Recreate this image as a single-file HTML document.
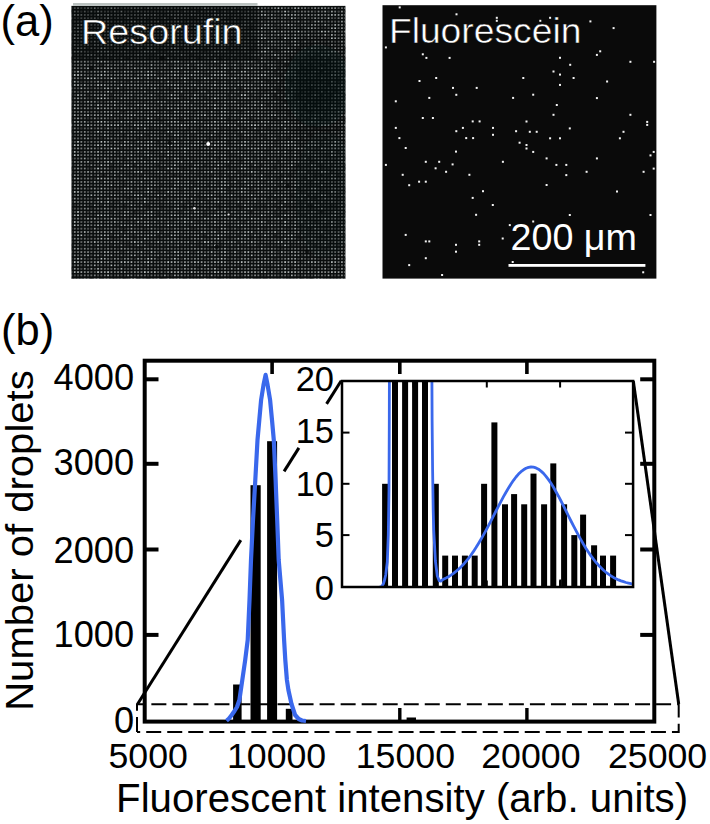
<!DOCTYPE html>
<html><head><meta charset="utf-8"><title>Figure</title>
<style>
html,body{margin:0;padding:0;background:#fff;width:710px;height:824px;overflow:hidden}
svg{display:block;font-family:"Liberation Sans",sans-serif}
</style></head><body>
<svg width="710" height="824" viewBox="0 0 710 824">
<defs>
<pattern id="dots" patternUnits="userSpaceOnUse" x="70.5" y="7.35" width="3.34" height="3.34">
<rect x="0" y="0" width="1.7" height="1.7" rx="0.5" fill="#d2d8d8"/></pattern>
<pattern id="dimA" patternUnits="userSpaceOnUse" x="70.5" y="7.35" width="23.38" height="23.38"><rect x="-0.20" y="-0.20" width="2" height="2" fill="#000" fill-opacity="0.08"/><rect x="-0.20" y="3.14" width="2" height="2" fill="#000" fill-opacity="0.51"/><rect x="-0.20" y="6.48" width="2" height="2" fill="#000" fill-opacity="0.46"/><rect x="-0.20" y="9.82" width="2" height="2" fill="#000" fill-opacity="0.15"/><rect x="-0.20" y="13.16" width="2" height="2" fill="#000" fill-opacity="0.30"/><rect x="-0.20" y="16.50" width="2" height="2" fill="#000" fill-opacity="0.27"/><rect x="-0.20" y="19.84" width="2" height="2" fill="#000" fill-opacity="0.39"/><rect x="3.14" y="-0.20" width="2" height="2" fill="#000" fill-opacity="0.47"/><rect x="3.14" y="3.14" width="2" height="2" fill="#000" fill-opacity="0.06"/><rect x="3.14" y="6.48" width="2" height="2" fill="#000" fill-opacity="0.02"/><rect x="3.14" y="9.82" width="2" height="2" fill="#000" fill-opacity="0.50"/><rect x="3.14" y="13.16" width="2" height="2" fill="#000" fill-opacity="0.26"/><rect x="3.14" y="16.50" width="2" height="2" fill="#000" fill-opacity="0.46"/><rect x="3.14" y="19.84" width="2" height="2" fill="#000" fill-opacity="0.00"/><rect x="6.48" y="-0.20" width="2" height="2" fill="#000" fill-opacity="0.27"/><rect x="6.48" y="3.14" width="2" height="2" fill="#000" fill-opacity="0.43"/><rect x="6.48" y="6.48" width="2" height="2" fill="#000" fill-opacity="0.14"/><rect x="6.48" y="9.82" width="2" height="2" fill="#000" fill-opacity="0.57"/><rect x="6.48" y="13.16" width="2" height="2" fill="#000" fill-opacity="0.54"/><rect x="6.48" y="16.50" width="2" height="2" fill="#000" fill-opacity="0.02"/><rect x="6.48" y="19.84" width="2" height="2" fill="#000" fill-opacity="0.02"/><rect x="9.82" y="-0.20" width="2" height="2" fill="#000" fill-opacity="0.32"/><rect x="9.82" y="3.14" width="2" height="2" fill="#000" fill-opacity="0.56"/><rect x="9.82" y="6.48" width="2" height="2" fill="#000" fill-opacity="0.23"/><rect x="9.82" y="9.82" width="2" height="2" fill="#000" fill-opacity="0.13"/><rect x="9.82" y="13.16" width="2" height="2" fill="#000" fill-opacity="0.25"/><rect x="9.82" y="16.50" width="2" height="2" fill="#000" fill-opacity="0.02"/><rect x="9.82" y="19.84" width="2" height="2" fill="#000" fill-opacity="0.13"/><rect x="13.16" y="-0.20" width="2" height="2" fill="#000" fill-opacity="0.26"/><rect x="13.16" y="3.14" width="2" height="2" fill="#000" fill-opacity="0.30"/><rect x="13.16" y="6.48" width="2" height="2" fill="#000" fill-opacity="0.14"/><rect x="13.16" y="9.82" width="2" height="2" fill="#000" fill-opacity="0.14"/><rect x="13.16" y="13.16" width="2" height="2" fill="#000" fill-opacity="0.13"/><rect x="13.16" y="16.50" width="2" height="2" fill="#000" fill-opacity="0.28"/><rect x="13.16" y="19.84" width="2" height="2" fill="#000" fill-opacity="0.17"/><rect x="16.50" y="-0.20" width="2" height="2" fill="#000" fill-opacity="0.01"/><rect x="16.50" y="3.14" width="2" height="2" fill="#000" fill-opacity="0.50"/><rect x="16.50" y="6.48" width="2" height="2" fill="#000" fill-opacity="0.33"/><rect x="16.50" y="9.82" width="2" height="2" fill="#000" fill-opacity="0.39"/><rect x="16.50" y="13.16" width="2" height="2" fill="#000" fill-opacity="0.11"/><rect x="16.50" y="16.50" width="2" height="2" fill="#000" fill-opacity="0.60"/><rect x="16.50" y="19.84" width="2" height="2" fill="#000" fill-opacity="0.52"/><rect x="19.84" y="-0.20" width="2" height="2" fill="#000" fill-opacity="0.07"/><rect x="19.84" y="3.14" width="2" height="2" fill="#000" fill-opacity="0.20"/><rect x="19.84" y="6.48" width="2" height="2" fill="#000" fill-opacity="0.43"/><rect x="19.84" y="9.82" width="2" height="2" fill="#000" fill-opacity="0.43"/><rect x="19.84" y="13.16" width="2" height="2" fill="#000" fill-opacity="0.56"/><rect x="19.84" y="16.50" width="2" height="2" fill="#000" fill-opacity="0.25"/><rect x="19.84" y="19.84" width="2" height="2" fill="#000" fill-opacity="0.50"/></pattern><pattern id="dimB" patternUnits="userSpaceOnUse" x="70.5" y="7.35" width="36.74" height="36.74"><rect x="-0.20" y="-0.20" width="2" height="2" fill="#000" fill-opacity="0.48"/><rect x="-0.20" y="3.14" width="2" height="2" fill="#000" fill-opacity="0.47"/><rect x="-0.20" y="6.48" width="2" height="2" fill="#000" fill-opacity="0.03"/><rect x="-0.20" y="9.82" width="2" height="2" fill="#000" fill-opacity="0.04"/><rect x="-0.20" y="13.16" width="2" height="2" fill="#000" fill-opacity="0.42"/><rect x="-0.20" y="16.50" width="2" height="2" fill="#000" fill-opacity="0.37"/><rect x="-0.20" y="19.84" width="2" height="2" fill="#000" fill-opacity="0.33"/><rect x="-0.20" y="23.18" width="2" height="2" fill="#000" fill-opacity="0.15"/><rect x="-0.20" y="26.52" width="2" height="2" fill="#000" fill-opacity="0.30"/><rect x="-0.20" y="29.86" width="2" height="2" fill="#000" fill-opacity="0.30"/><rect x="-0.20" y="33.20" width="2" height="2" fill="#000" fill-opacity="0.29"/><rect x="3.14" y="-0.20" width="2" height="2" fill="#000" fill-opacity="0.08"/><rect x="3.14" y="3.14" width="2" height="2" fill="#000" fill-opacity="0.22"/><rect x="3.14" y="6.48" width="2" height="2" fill="#000" fill-opacity="0.20"/><rect x="3.14" y="9.82" width="2" height="2" fill="#000" fill-opacity="0.36"/><rect x="3.14" y="13.16" width="2" height="2" fill="#000" fill-opacity="0.50"/><rect x="3.14" y="16.50" width="2" height="2" fill="#000" fill-opacity="0.47"/><rect x="3.14" y="19.84" width="2" height="2" fill="#000" fill-opacity="0.27"/><rect x="3.14" y="23.18" width="2" height="2" fill="#000" fill-opacity="0.22"/><rect x="3.14" y="26.52" width="2" height="2" fill="#000" fill-opacity="0.13"/><rect x="3.14" y="29.86" width="2" height="2" fill="#000" fill-opacity="0.02"/><rect x="3.14" y="33.20" width="2" height="2" fill="#000" fill-opacity="0.01"/><rect x="6.48" y="-0.20" width="2" height="2" fill="#000" fill-opacity="0.23"/><rect x="6.48" y="3.14" width="2" height="2" fill="#000" fill-opacity="0.16"/><rect x="6.48" y="6.48" width="2" height="2" fill="#000" fill-opacity="0.19"/><rect x="6.48" y="9.82" width="2" height="2" fill="#000" fill-opacity="0.45"/><rect x="6.48" y="13.16" width="2" height="2" fill="#000" fill-opacity="0.26"/><rect x="6.48" y="16.50" width="2" height="2" fill="#000" fill-opacity="0.28"/><rect x="6.48" y="19.84" width="2" height="2" fill="#000" fill-opacity="0.12"/><rect x="6.48" y="23.18" width="2" height="2" fill="#000" fill-opacity="0.01"/><rect x="6.48" y="26.52" width="2" height="2" fill="#000" fill-opacity="0.16"/><rect x="6.48" y="29.86" width="2" height="2" fill="#000" fill-opacity="0.07"/><rect x="6.48" y="33.20" width="2" height="2" fill="#000" fill-opacity="0.26"/><rect x="9.82" y="-0.20" width="2" height="2" fill="#000" fill-opacity="0.50"/><rect x="9.82" y="3.14" width="2" height="2" fill="#000" fill-opacity="0.34"/><rect x="9.82" y="6.48" width="2" height="2" fill="#000" fill-opacity="0.09"/><rect x="9.82" y="9.82" width="2" height="2" fill="#000" fill-opacity="0.45"/><rect x="9.82" y="13.16" width="2" height="2" fill="#000" fill-opacity="0.40"/><rect x="9.82" y="16.50" width="2" height="2" fill="#000" fill-opacity="0.37"/><rect x="9.82" y="19.84" width="2" height="2" fill="#000" fill-opacity="0.45"/><rect x="9.82" y="23.18" width="2" height="2" fill="#000" fill-opacity="0.38"/><rect x="9.82" y="26.52" width="2" height="2" fill="#000" fill-opacity="0.39"/><rect x="9.82" y="29.86" width="2" height="2" fill="#000" fill-opacity="0.18"/><rect x="9.82" y="33.20" width="2" height="2" fill="#000" fill-opacity="0.49"/><rect x="13.16" y="-0.20" width="2" height="2" fill="#000" fill-opacity="0.48"/><rect x="13.16" y="3.14" width="2" height="2" fill="#000" fill-opacity="0.08"/><rect x="13.16" y="6.48" width="2" height="2" fill="#000" fill-opacity="0.38"/><rect x="13.16" y="9.82" width="2" height="2" fill="#000" fill-opacity="0.36"/><rect x="13.16" y="13.16" width="2" height="2" fill="#000" fill-opacity="0.23"/><rect x="13.16" y="16.50" width="2" height="2" fill="#000" fill-opacity="0.27"/><rect x="13.16" y="19.84" width="2" height="2" fill="#000" fill-opacity="0.25"/><rect x="13.16" y="23.18" width="2" height="2" fill="#000" fill-opacity="0.46"/><rect x="13.16" y="26.52" width="2" height="2" fill="#000" fill-opacity="0.25"/><rect x="13.16" y="29.86" width="2" height="2" fill="#000" fill-opacity="0.42"/><rect x="13.16" y="33.20" width="2" height="2" fill="#000" fill-opacity="0.18"/><rect x="16.50" y="-0.20" width="2" height="2" fill="#000" fill-opacity="0.44"/><rect x="16.50" y="3.14" width="2" height="2" fill="#000" fill-opacity="0.45"/><rect x="16.50" y="6.48" width="2" height="2" fill="#000" fill-opacity="0.23"/><rect x="16.50" y="9.82" width="2" height="2" fill="#000" fill-opacity="0.28"/><rect x="16.50" y="13.16" width="2" height="2" fill="#000" fill-opacity="0.46"/><rect x="16.50" y="16.50" width="2" height="2" fill="#000" fill-opacity="0.36"/><rect x="16.50" y="19.84" width="2" height="2" fill="#000" fill-opacity="0.24"/><rect x="16.50" y="23.18" width="2" height="2" fill="#000" fill-opacity="0.11"/><rect x="16.50" y="26.52" width="2" height="2" fill="#000" fill-opacity="0.16"/><rect x="16.50" y="29.86" width="2" height="2" fill="#000" fill-opacity="0.35"/><rect x="16.50" y="33.20" width="2" height="2" fill="#000" fill-opacity="0.08"/><rect x="19.84" y="-0.20" width="2" height="2" fill="#000" fill-opacity="0.45"/><rect x="19.84" y="3.14" width="2" height="2" fill="#000" fill-opacity="0.13"/><rect x="19.84" y="6.48" width="2" height="2" fill="#000" fill-opacity="0.46"/><rect x="19.84" y="9.82" width="2" height="2" fill="#000" fill-opacity="0.15"/><rect x="19.84" y="13.16" width="2" height="2" fill="#000" fill-opacity="0.48"/><rect x="19.84" y="16.50" width="2" height="2" fill="#000" fill-opacity="0.35"/><rect x="19.84" y="19.84" width="2" height="2" fill="#000" fill-opacity="0.25"/><rect x="19.84" y="23.18" width="2" height="2" fill="#000" fill-opacity="0.26"/><rect x="19.84" y="26.52" width="2" height="2" fill="#000" fill-opacity="0.33"/><rect x="19.84" y="29.86" width="2" height="2" fill="#000" fill-opacity="0.29"/><rect x="19.84" y="33.20" width="2" height="2" fill="#000" fill-opacity="0.16"/><rect x="23.18" y="-0.20" width="2" height="2" fill="#000" fill-opacity="0.10"/><rect x="23.18" y="3.14" width="2" height="2" fill="#000" fill-opacity="0.26"/><rect x="23.18" y="6.48" width="2" height="2" fill="#000" fill-opacity="0.47"/><rect x="23.18" y="9.82" width="2" height="2" fill="#000" fill-opacity="0.31"/><rect x="23.18" y="13.16" width="2" height="2" fill="#000" fill-opacity="0.04"/><rect x="23.18" y="16.50" width="2" height="2" fill="#000" fill-opacity="0.41"/><rect x="23.18" y="19.84" width="2" height="2" fill="#000" fill-opacity="0.36"/><rect x="23.18" y="23.18" width="2" height="2" fill="#000" fill-opacity="0.45"/><rect x="23.18" y="26.52" width="2" height="2" fill="#000" fill-opacity="0.10"/><rect x="23.18" y="29.86" width="2" height="2" fill="#000" fill-opacity="0.37"/><rect x="23.18" y="33.20" width="2" height="2" fill="#000" fill-opacity="0.03"/><rect x="26.52" y="-0.20" width="2" height="2" fill="#000" fill-opacity="0.33"/><rect x="26.52" y="3.14" width="2" height="2" fill="#000" fill-opacity="0.14"/><rect x="26.52" y="6.48" width="2" height="2" fill="#000" fill-opacity="0.11"/><rect x="26.52" y="9.82" width="2" height="2" fill="#000" fill-opacity="0.44"/><rect x="26.52" y="13.16" width="2" height="2" fill="#000" fill-opacity="0.05"/><rect x="26.52" y="16.50" width="2" height="2" fill="#000" fill-opacity="0.26"/><rect x="26.52" y="19.84" width="2" height="2" fill="#000" fill-opacity="0.43"/><rect x="26.52" y="23.18" width="2" height="2" fill="#000" fill-opacity="0.12"/><rect x="26.52" y="26.52" width="2" height="2" fill="#000" fill-opacity="0.11"/><rect x="26.52" y="29.86" width="2" height="2" fill="#000" fill-opacity="0.44"/><rect x="26.52" y="33.20" width="2" height="2" fill="#000" fill-opacity="0.21"/><rect x="29.86" y="-0.20" width="2" height="2" fill="#000" fill-opacity="0.36"/><rect x="29.86" y="3.14" width="2" height="2" fill="#000" fill-opacity="0.02"/><rect x="29.86" y="6.48" width="2" height="2" fill="#000" fill-opacity="0.18"/><rect x="29.86" y="9.82" width="2" height="2" fill="#000" fill-opacity="0.09"/><rect x="29.86" y="13.16" width="2" height="2" fill="#000" fill-opacity="0.34"/><rect x="29.86" y="16.50" width="2" height="2" fill="#000" fill-opacity="0.04"/><rect x="29.86" y="19.84" width="2" height="2" fill="#000" fill-opacity="0.48"/><rect x="29.86" y="23.18" width="2" height="2" fill="#000" fill-opacity="0.01"/><rect x="29.86" y="26.52" width="2" height="2" fill="#000" fill-opacity="0.36"/><rect x="29.86" y="29.86" width="2" height="2" fill="#000" fill-opacity="0.01"/><rect x="29.86" y="33.20" width="2" height="2" fill="#000" fill-opacity="0.13"/><rect x="33.20" y="-0.20" width="2" height="2" fill="#000" fill-opacity="0.41"/><rect x="33.20" y="3.14" width="2" height="2" fill="#000" fill-opacity="0.08"/><rect x="33.20" y="6.48" width="2" height="2" fill="#000" fill-opacity="0.09"/><rect x="33.20" y="9.82" width="2" height="2" fill="#000" fill-opacity="0.35"/><rect x="33.20" y="13.16" width="2" height="2" fill="#000" fill-opacity="0.19"/><rect x="33.20" y="16.50" width="2" height="2" fill="#000" fill-opacity="0.02"/><rect x="33.20" y="19.84" width="2" height="2" fill="#000" fill-opacity="0.50"/><rect x="33.20" y="23.18" width="2" height="2" fill="#000" fill-opacity="0.08"/><rect x="33.20" y="26.52" width="2" height="2" fill="#000" fill-opacity="0.02"/><rect x="33.20" y="29.86" width="2" height="2" fill="#000" fill-opacity="0.17"/><rect x="33.20" y="33.20" width="2" height="2" fill="#000" fill-opacity="0.31"/></pattern>
<clipPath id="rclip"><rect x="71.5" y="5.9" width="273.9" height="272.8"/></clipPath>
<clipPath id="iclip"><rect x="342.0" y="381.0" width="291.1" height="206"/></clipPath>
<linearGradient id="rgrad" gradientUnits="userSpaceOnUse" x1="72" y1="200" x2="345" y2="120">
<stop offset="0" stop-color="#050808" stop-opacity="0"/><stop offset="0.45" stop-color="#050808" stop-opacity="0.06"/><stop offset="1" stop-color="#050808" stop-opacity="0.32"/></linearGradient>
<filter id="blur8" x="-50%" y="-50%" width="200%" height="200%"><feGaussianBlur stdDeviation="10"/></filter>
</defs>
<text x="0.5" y="35.5" font-size="43.5">(a)</text>
<text x="1" y="345.4" font-size="43.5">(b)</text>
<rect x="71.5" y="5.9" width="273.9" height="272.8" fill="#0b0f0f"/>
<rect x="71.5" y="5.9" width="273.9" height="272.8" fill="url(#dots)"/>
<rect x="71.5" y="5.9" width="273.9" height="272.8" fill="url(#dimA)"/>
<rect x="71.5" y="5.9" width="273.9" height="272.8" fill="url(#dimB)"/>
<g clip-path="url(#rclip)">
<ellipse cx="325" cy="195" rx="30" ry="65" fill="#050808" opacity="0.3" filter="url(#blur8)"/>
<rect x="71.5" y="5.9" width="186" height="54" fill="#050808" opacity="0.45"/>
<ellipse cx="318" cy="86" rx="34" ry="42" fill="#050808" opacity="0.6" filter="url(#blur8)"/>
</g>
<rect x="73" y="3" width="184.5" height="2.9" fill="#bcc3c1"/>
<circle cx="208.2" cy="144" r="2" fill="#ffffff"/>
<circle cx="194.4" cy="208.3" r="1.3" fill="#e8e8e8"/>
<circle cx="228.6" cy="214.5" r="1.1" fill="#e0e0e0"/>
<circle cx="287.4" cy="186" r="2.2" fill="#050808" opacity="0.7"/>
<circle cx="307" cy="251.8" r="2.2" fill="#050808" opacity="0.7"/>
<circle cx="216.8" cy="246.9" r="2.2" fill="#050808" opacity="0.7"/>
<circle cx="170" cy="143" r="2.2" fill="#050808" opacity="0.7"/>
<circle cx="91" cy="68" r="2.2" fill="#050808" opacity="0.7"/>
<circle cx="162" cy="58" r="2.2" fill="#050808" opacity="0.7"/>
<text x="81.1" y="44.2" font-size="35" fill="#fff" stroke="#101414" stroke-width="0.5" textLength="161.5" lengthAdjust="spacingAndGlyphs">Resorufin</text>
<rect x="382.5" y="5.2" width="273.9" height="273.4" fill="#0a0a0a"/>
<rect x="398.7" y="6.4" width="2" height="2" fill="#f4f4f4"/>
<rect x="455.5" y="13.3" width="2" height="2" fill="#f4f4f4"/>
<rect x="495.8" y="16.8" width="2" height="2" fill="#f4f4f4"/>
<rect x="495.8" y="19.8" width="2" height="2" fill="#f4f4f4"/>
<rect x="384.9" y="46.4" width="2" height="2" fill="#f4f4f4"/>
<rect x="421.8" y="53.3" width="2" height="2" fill="#f4f4f4"/>
<rect x="425.4" y="56.9" width="2" height="2" fill="#f4f4f4"/>
<rect x="448.6" y="56.9" width="2" height="2" fill="#f4f4f4"/>
<rect x="435.2" y="77" width="2" height="2" fill="#f4f4f4"/>
<rect x="418.5" y="80" width="2" height="2" fill="#f4f4f4"/>
<rect x="452" y="86.9" width="2" height="2" fill="#f4f4f4"/>
<rect x="475.7" y="86.9" width="2" height="2" fill="#f4f4f4"/>
<rect x="455.3" y="93.8" width="2" height="2" fill="#f4f4f4"/>
<rect x="428.3" y="96.9" width="2" height="2" fill="#f4f4f4"/>
<rect x="512.1" y="96.9" width="2" height="2" fill="#f4f4f4"/>
<rect x="394.8" y="100.3" width="2" height="2" fill="#f4f4f4"/>
<rect x="421.8" y="117" width="2" height="2" fill="#f4f4f4"/>
<rect x="431.9" y="117" width="2" height="2" fill="#f4f4f4"/>
<rect x="471.7" y="120.4" width="2" height="2" fill="#f4f4f4"/>
<rect x="478.6" y="120.4" width="2" height="2" fill="#f4f4f4"/>
<rect x="394.8" y="126.9" width="2" height="2" fill="#f4f4f4"/>
<rect x="461.9" y="126.9" width="2" height="2" fill="#f4f4f4"/>
<rect x="492" y="126.9" width="2" height="2" fill="#f4f4f4"/>
<rect x="455.3" y="130.2" width="2" height="2" fill="#f4f4f4"/>
<rect x="515.1" y="130.2" width="2" height="2" fill="#f4f4f4"/>
<rect x="492" y="133.8" width="2" height="2" fill="#f4f4f4"/>
<rect x="398.4" y="137.1" width="2" height="2" fill="#f4f4f4"/>
<rect x="465.2" y="137.1" width="2" height="2" fill="#f4f4f4"/>
<rect x="472.1" y="137.1" width="2" height="2" fill="#f4f4f4"/>
<rect x="518.6" y="141.7" width="2" height="2" fill="#f4f4f4"/>
<rect x="404.7" y="147" width="2" height="2" fill="#f4f4f4"/>
<rect x="455" y="150.6" width="2" height="2" fill="#f4f4f4"/>
<rect x="424.8" y="160.8" width="2" height="2" fill="#f4f4f4"/>
<rect x="438.2" y="160.8" width="2" height="2" fill="#f4f4f4"/>
<rect x="501.9" y="160.8" width="2" height="2" fill="#f4f4f4"/>
<rect x="451.6" y="163.4" width="2" height="2" fill="#f4f4f4"/>
<rect x="539.3" y="19.8" width="2" height="2" fill="#f4f4f4"/>
<rect x="549.1" y="16.8" width="2" height="2" fill="#f4f4f4"/>
<rect x="589.4" y="20.4" width="2" height="2" fill="#f4f4f4"/>
<rect x="612.6" y="27.1" width="2" height="2" fill="#f4f4f4"/>
<rect x="599.2" y="50.3" width="2" height="2" fill="#f4f4f4"/>
<rect x="595.9" y="53.9" width="2" height="2" fill="#f4f4f4"/>
<rect x="559" y="56.8" width="2" height="2" fill="#f4f4f4"/>
<rect x="629.4" y="60.8" width="2" height="2" fill="#f4f4f4"/>
<rect x="653.1" y="60.8" width="2" height="2" fill="#f4f4f4"/>
<rect x="569.2" y="63.8" width="2" height="2" fill="#f4f4f4"/>
<rect x="552.5" y="70.5" width="2" height="2" fill="#f4f4f4"/>
<rect x="559" y="73.6" width="2" height="2" fill="#f4f4f4"/>
<rect x="522.3" y="77" width="2" height="2" fill="#f4f4f4"/>
<rect x="572.6" y="77" width="2" height="2" fill="#f4f4f4"/>
<rect x="606.1" y="80.5" width="2" height="2" fill="#f4f4f4"/>
<rect x="559" y="83.9" width="2" height="2" fill="#f4f4f4"/>
<rect x="532.2" y="93.7" width="2" height="2" fill="#f4f4f4"/>
<rect x="595.9" y="97.1" width="2" height="2" fill="#f4f4f4"/>
<rect x="555.8" y="104" width="2" height="2" fill="#f4f4f4"/>
<rect x="552.5" y="113.8" width="2" height="2" fill="#f4f4f4"/>
<rect x="629.4" y="113.8" width="2" height="2" fill="#f4f4f4"/>
<rect x="525.5" y="120.5" width="2" height="2" fill="#f4f4f4"/>
<rect x="646.2" y="120.9" width="2" height="2" fill="#f4f4f4"/>
<rect x="646.2" y="123.9" width="2" height="2" fill="#f4f4f4"/>
<rect x="568.8" y="127.4" width="2" height="2" fill="#f4f4f4"/>
<rect x="528.8" y="130.8" width="2" height="2" fill="#f4f4f4"/>
<rect x="535.7" y="130.8" width="2" height="2" fill="#f4f4f4"/>
<rect x="622.5" y="130.8" width="2" height="2" fill="#f4f4f4"/>
<rect x="549.1" y="137.3" width="2" height="2" fill="#f4f4f4"/>
<rect x="559" y="137.3" width="2" height="2" fill="#f4f4f4"/>
<rect x="618.9" y="137.3" width="2" height="2" fill="#f4f4f4"/>
<rect x="525.5" y="144" width="2" height="2" fill="#f4f4f4"/>
<rect x="525.5" y="147.5" width="2" height="2" fill="#f4f4f4"/>
<rect x="532.2" y="150.9" width="2" height="2" fill="#f4f4f4"/>
<rect x="652.7" y="150.9" width="2" height="2" fill="#f4f4f4"/>
<rect x="649.5" y="154.4" width="2" height="2" fill="#f4f4f4"/>
<rect x="545.6" y="157.4" width="2" height="2" fill="#f4f4f4"/>
<rect x="595.9" y="157.4" width="2" height="2" fill="#f4f4f4"/>
<rect x="555.4" y="163.9" width="2" height="2" fill="#f4f4f4"/>
<rect x="565.3" y="163.9" width="2" height="2" fill="#f4f4f4"/>
<rect x="652.7" y="167.6" width="2" height="2" fill="#f4f4f4"/>
<rect x="585.6" y="170.8" width="2" height="2" fill="#f4f4f4"/>
<rect x="642.6" y="170.8" width="2" height="2" fill="#f4f4f4"/>
<rect x="565.3" y="174.1" width="2" height="2" fill="#f4f4f4"/>
<rect x="545.6" y="184" width="2" height="2" fill="#f4f4f4"/>
<rect x="616" y="190.5" width="2" height="2" fill="#f4f4f4"/>
<rect x="568.8" y="214" width="2" height="2" fill="#f4f4f4"/>
<rect x="649.5" y="214" width="2" height="2" fill="#f4f4f4"/>
<rect x="532.2" y="220.5" width="2" height="2" fill="#f4f4f4"/>
<rect x="384.9" y="163.9" width="2" height="2" fill="#f4f4f4"/>
<rect x="434.6" y="167.3" width="2" height="2" fill="#f4f4f4"/>
<rect x="445.1" y="170.8" width="2" height="2" fill="#f4f4f4"/>
<rect x="401.7" y="173.8" width="2" height="2" fill="#f4f4f4"/>
<rect x="468.4" y="173.8" width="2" height="2" fill="#f4f4f4"/>
<rect x="418.1" y="180.7" width="2" height="2" fill="#f4f4f4"/>
<rect x="424.8" y="180.7" width="2" height="2" fill="#f4f4f4"/>
<rect x="408.2" y="184.2" width="2" height="2" fill="#f4f4f4"/>
<rect x="482" y="190.2" width="2" height="2" fill="#f4f4f4"/>
<rect x="471.7" y="196.9" width="2" height="2" fill="#f4f4f4"/>
<rect x="491.8" y="204" width="2" height="2" fill="#f4f4f4"/>
<rect x="475.1" y="213.8" width="2" height="2" fill="#f4f4f4"/>
<rect x="508.8" y="224.1" width="2" height="2" fill="#f4f4f4"/>
<rect x="404.7" y="233.9" width="2" height="2" fill="#f4f4f4"/>
<rect x="501.7" y="237.5" width="2" height="2" fill="#f4f4f4"/>
<rect x="424.8" y="240.4" width="2" height="2" fill="#f4f4f4"/>
<rect x="428.3" y="240.4" width="2" height="2" fill="#f4f4f4"/>
<rect x="478.2" y="240.4" width="2" height="2" fill="#f4f4f4"/>
<rect x="478.2" y="243.8" width="2" height="2" fill="#f4f4f4"/>
<rect x="455" y="243.8" width="2" height="2" fill="#f4f4f4"/>
<rect x="455" y="250.7" width="2" height="2" fill="#f4f4f4"/>
<rect x="424.8" y="257.2" width="2" height="2" fill="#f4f4f4"/>
<rect x="408.2" y="264.1" width="2" height="2" fill="#f4f4f4"/>
<rect x="511.7" y="261" width="2" height="2" fill="#f4f4f4"/>
<rect x="441.1" y="274" width="2" height="2" fill="#f4f4f4"/>
<rect x="642.2" y="271.3" width="2" height="2" fill="#f4f4f4"/>
<text x="388.9" y="43.4" font-size="35" fill="#fff" stroke="#0a0a0a" stroke-width="0.5" textLength="192.5" lengthAdjust="spacingAndGlyphs">Fluorescein</text>
<text x="510.5" y="249.9" font-size="36" fill="#fff" textLength="126.5" lengthAdjust="spacingAndGlyphs">200 μm</text>
<rect x="508.5" y="264" width="136.9" height="2.8" fill="#fff"/>
<path d="M137,731.9 V704.2 H678.7 V731.9 H137" fill="none" stroke="#000" stroke-width="2" stroke-dasharray="15 6.03"/>
<line x1="137.6" y1="704" x2="240.8" y2="540.1" stroke="#000" stroke-width="3"/>
<line x1="284.1" y1="471.4" x2="298.9" y2="447.9" stroke="#000" stroke-width="3"/>
<line x1="326.6" y1="403.9" x2="341.2" y2="380.7" stroke="#000" stroke-width="3"/>
<line x1="633.3" y1="381" x2="678.7" y2="704" stroke="#000" stroke-width="3"/>
<rect x="233.1" y="684.5" width="8.5" height="37.1" fill="#000"/>
<rect x="250.5" y="485.2" width="10.2" height="236.4" fill="#000"/>
<rect x="267.1" y="441.2" width="10" height="280.4" fill="#000"/>
<rect x="285.8" y="708.8" width="6.7" height="12.8" fill="#000"/>
<rect x="406.6" y="717.5" width="9.4" height="4.1" fill="#000"/>
<rect x="144.7" y="360.7" width="509.6" height="360.9" fill="none" stroke="#000" stroke-width="4"/>
<line x1="146" y1="379.3" x2="158.5" y2="379.3" stroke="#000" stroke-width="4"/>
<line x1="640.2" y1="379.3" x2="653" y2="379.3" stroke="#000" stroke-width="4"/>
<line x1="146" y1="463.8" x2="158.5" y2="463.8" stroke="#000" stroke-width="4"/>
<line x1="640.2" y1="463.8" x2="653" y2="463.8" stroke="#000" stroke-width="4"/>
<line x1="146" y1="549.5" x2="158.5" y2="549.5" stroke="#000" stroke-width="4"/>
<line x1="640.2" y1="549.5" x2="653" y2="549.5" stroke="#000" stroke-width="4"/>
<line x1="146" y1="634.9" x2="158.5" y2="634.9" stroke="#000" stroke-width="4"/>
<line x1="640.2" y1="634.9" x2="653" y2="634.9" stroke="#000" stroke-width="4"/>
<line x1="272.1" y1="362" x2="272.1" y2="374" stroke="#000" stroke-width="3.6"/>
<line x1="399.8" y1="362" x2="399.8" y2="374" stroke="#000" stroke-width="3.6"/>
<line x1="526.9" y1="362" x2="526.9" y2="374" stroke="#000" stroke-width="3.6"/>
<line x1="399.8" y1="708" x2="399.8" y2="720" stroke="#000" stroke-width="3.4"/>
<line x1="526.9" y1="708" x2="526.9" y2="720" stroke="#000" stroke-width="3.4"/>
<polyline points="226.5,720.8 229,718.5 231.7,715 234.5,711 237,707 239.4,700 242.3,680 245.2,660 247.7,640 249.5,600 251,560 253,520 255.3,480 257.5,440 259.3,420 261.1,400 263.5,385 265.6,374.8 267.6,385 270.1,400 272,420 273.8,440 275.6,480 277.2,520 278.7,560 282.1,600 284.1,640 285.3,660 286.9,680 288.4,690 291.5,704 295.1,715 298.7,719 302,720.5 306,721" fill="none" stroke="#3a68ec" stroke-width="4.2" stroke-linejoin="round"/>
<text x="134.1" y="390.4" font-size="36.2" text-anchor="end">4000</text>
<text x="134.1" y="475" font-size="36.2" text-anchor="end">3000</text>
<text x="134.1" y="562.9" font-size="36.2" text-anchor="end">2000</text>
<text x="134.1" y="646.5" font-size="36.2" text-anchor="end">1000</text>
<text x="134.1" y="733.1" font-size="36.2" text-anchor="end">0</text>
<text x="148.2" y="767.5" font-size="35.7" text-anchor="middle">5000</text>
<text x="276.6" y="767.5" font-size="35.7" text-anchor="middle">10000</text>
<text x="405.4" y="767.5" font-size="35.7" text-anchor="middle">15000</text>
<text x="530.9" y="767.5" font-size="35.7" text-anchor="middle">20000</text>
<text x="657.6" y="767.5" font-size="35.7" text-anchor="middle">25000</text>
<text x="116.1" y="812.3" font-size="40" textLength="572" lengthAdjust="spacingAndGlyphs">Fluorescent intensity (arb. units)</text>
<text transform="translate(33.4,707.8) rotate(-90)" x="-3" y="0" font-size="39.4" textLength="340.5" lengthAdjust="spacingAndGlyphs">Number of droplets</text>
<g clip-path="url(#iclip)">
<rect x="382.1" y="483.8" width="6" height="103.2" fill="#000"/>
<rect x="392" y="381" width="6" height="206" fill="#000"/>
<rect x="402.1" y="381" width="6" height="206" fill="#000"/>
<rect x="412.1" y="381" width="6" height="206" fill="#000"/>
<rect x="422" y="381" width="6" height="206" fill="#000"/>
<rect x="432.8" y="483.8" width="6" height="103.2" fill="#000"/>
<rect x="442.2" y="555.6" width="6" height="31.4" fill="#000"/>
<rect x="452" y="555.6" width="6" height="31.4" fill="#000"/>
<rect x="461.9" y="555.6" width="6" height="31.4" fill="#000"/>
<rect x="471.7" y="555.6" width="6" height="31.4" fill="#000"/>
<rect x="481.1" y="483.8" width="6" height="103.2" fill="#000"/>
<rect x="491.4" y="422.4" width="6" height="164.6" fill="#000"/>
<rect x="502" y="504.3" width="6" height="82.7" fill="#000"/>
<rect x="511.1" y="494.1" width="6" height="92.9" fill="#000"/>
<rect x="521.2" y="504.3" width="6" height="82.7" fill="#000"/>
<rect x="530.5" y="473.6" width="6" height="113.4" fill="#000"/>
<rect x="541.1" y="504.3" width="6" height="82.7" fill="#000"/>
<rect x="550.3" y="463.4" width="6" height="123.6" fill="#000"/>
<rect x="561.1" y="504.3" width="6" height="82.7" fill="#000"/>
<rect x="571.3" y="535.1" width="6" height="51.9" fill="#000"/>
<rect x="580.1" y="514.6" width="6" height="72.4" fill="#000"/>
<rect x="591.1" y="545.3" width="6" height="41.7" fill="#000"/>
<rect x="600" y="555.6" width="6" height="31.4" fill="#000"/>
<rect x="610.1" y="555.6" width="6" height="31.4" fill="#000"/>
<rect x="559.3" y="579.5" width="2" height="8" fill="#000"/>
<polyline points="376,588 380,587.2 382,586.2 383.5,583.5 384.8,579 385.7,575 387.3,562 388.3,535 389,490 389.3,420 389.4,378 431.9,378 432.1,420 432.6,470 433.2,510 433.7,530 435.4,561 437.3,576 439.2,580.6 440.8,581.2 443.5,579.2 446,578 448.5,576.7 451,575.1 453.5,573.4 456,571.4 458.5,569.3 461,566.9 463.5,564.3 466,561.4 468.5,558.3 471,555 473.5,551.4 476,547.6 478.5,543.5 481,539.3 483.5,534.9 486,530.3 488.5,525.6 491,520.8 493.5,515.9 496,511 498.5,506.1 501,501.4 503.5,496.7 506,492.2 508.5,488 511,484 513.5,480.3 516,477 518.5,474.1 521,471.7 523.5,469.8 526,468.3 528.5,467.4 531,467 533.5,467.2 536,467.9 538.5,469.2 541,471.1 543.5,473.4 546,476.3 548.5,479.6 551,483.3 553.5,487.3 556,491.7 558.5,496.2 561,501 563.5,505.9 566,510.9 568.5,516 571,521 573.5,525.9 576,530.7 578.5,535.4 581,539.9 583.5,544.3 586,548.4 588.5,552.2 591,555.9 593.5,559.2 596,562.3 598.5,565.2 601,567.8 603.5,570.2 606,572.3 608.5,574.2 611,575.9 613.5,577.4 616,578.7 618.5,579.9 621,580.9 623.5,581.7 626,582.5 628.5,583.1 631,583.7 633.5,584.1 636,584.5" fill="none" stroke="#3a68ec" stroke-width="2.8" stroke-linejoin="round"/>
</g>
<rect x="342.0" y="381.0" width="291.1" height="206" fill="none" stroke="#000" stroke-width="2.5"/>
<line x1="342.0" y1="535.1" x2="349.5" y2="535.1" stroke="#000" stroke-width="2"/>
<line x1="625" y1="535.1" x2="633.1" y2="535.1" stroke="#000" stroke-width="2"/>
<line x1="342.0" y1="483.8" x2="349.5" y2="483.8" stroke="#000" stroke-width="2"/>
<line x1="625" y1="483.8" x2="633.1" y2="483.8" stroke="#000" stroke-width="2"/>
<line x1="342.0" y1="432.6" x2="349.5" y2="432.6" stroke="#000" stroke-width="2"/>
<line x1="625" y1="432.6" x2="633.1" y2="432.6" stroke="#000" stroke-width="2"/>
<line x1="413.5" y1="381.0" x2="413.5" y2="387.5" stroke="#000" stroke-width="2"/>
<line x1="413.5" y1="580.5" x2="413.5" y2="587.0" stroke="#000" stroke-width="2"/>
<line x1="486.8" y1="381.0" x2="486.8" y2="387.5" stroke="#000" stroke-width="2"/>
<line x1="486.8" y1="580.5" x2="486.8" y2="587.0" stroke="#000" stroke-width="2"/>
<line x1="560.1" y1="381.0" x2="560.1" y2="387.5" stroke="#000" stroke-width="2"/>
<line x1="560.1" y1="580.5" x2="560.1" y2="587.0" stroke="#000" stroke-width="2"/>
<text x="334" y="391.3" font-size="34.5" text-anchor="end">20</text>
<text x="334" y="443.3" font-size="34.5" text-anchor="end">15</text>
<text x="334" y="496.2" font-size="34.5" text-anchor="end">10</text>
<text x="334" y="547.2" font-size="34.5" text-anchor="end">5</text>
<text x="334" y="599.9" font-size="34.5" text-anchor="end">0</text>
</svg>
</body></html>
